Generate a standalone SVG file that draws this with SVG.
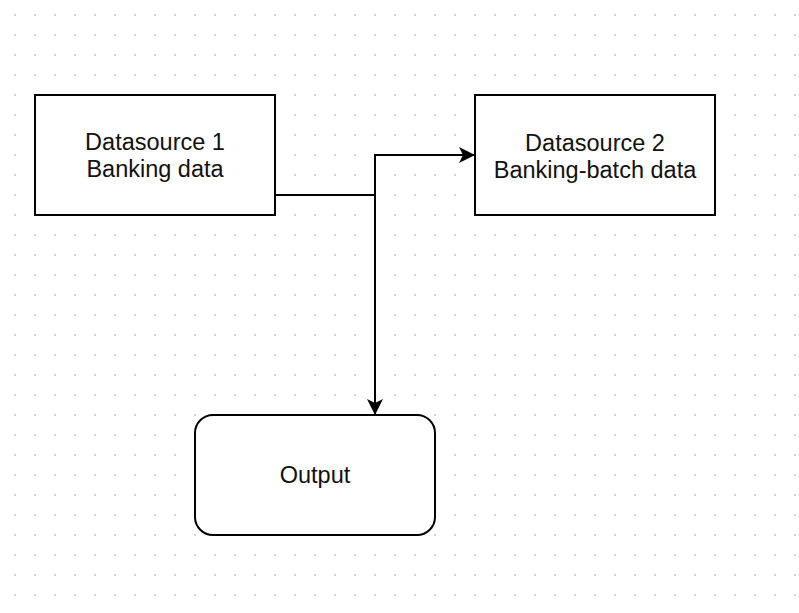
<svg xmlns="http://www.w3.org/2000/svg" width="799" height="613" viewBox="0 0 799 613">
  <style>
    .box { fill: #ffffff; stroke: #000000; stroke-width: 2; }
    .lbl { font-family: "Liberation Sans", Arial, Helvetica, sans-serif; font-size: 23.5px; fill: #111111; text-anchor: middle; }
    .edge { fill: none; stroke: #000000; stroke-width: 2; }
  </style>
  <defs>
    <pattern id="grid" patternUnits="userSpaceOnUse" width="20" height="20">
      <rect x="14" y="14" width="2" height="2" fill="#d4d4d4"/>
    </pattern>
    <marker id="arrow" viewBox="0 0 16 18" refX="16" refY="9" markerWidth="16" markerHeight="18" markerUnits="userSpaceOnUse" orient="auto">
      <path d="M0,1 L16,9 L0,17 L4,9 Z" fill="#000000"/>
    </marker>
  </defs>
  <rect x="0" y="0" width="799" height="613" fill="#ffffff"/>
  <rect x="0" y="0" width="799" height="613" fill="url(#grid)"/>

  <g id="connectors">
    <path class="edge" d="M275,195 L375,195 L375,155 L475,155" marker-end="url(#arrow)"/>
    <path class="edge" d="M375,195 L375,415" marker-end="url(#arrow)"/>
  </g>

  <g id="datasource1">
    <rect class="box" x="35" y="95" width="240" height="120"/>
    <text class="lbl" x="155" y="150">Datasource 1</text>
    <text class="lbl" x="155" y="177">Banking data</text>
  </g>

  <g id="datasource2">
    <rect class="box" x="475" y="95" width="240" height="120"/>
    <text class="lbl" x="595" y="151">Datasource 2</text>
    <text class="lbl" x="595" y="178">Banking-batch data</text>
  </g>

  <g id="output">
    <rect class="box" x="195" y="415" width="240" height="120" rx="18" ry="18"/>
    <text class="lbl" x="315" y="483">Output</text>
  </g>
</svg>
